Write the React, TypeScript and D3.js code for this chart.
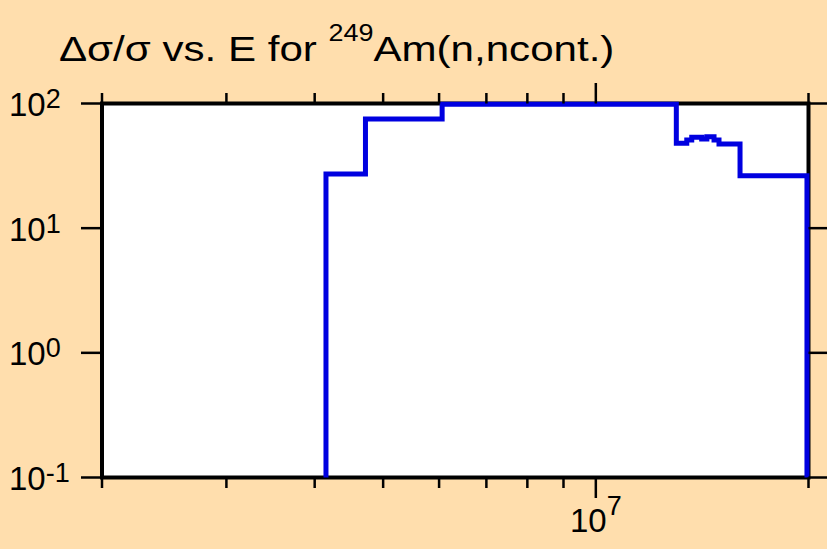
import React from "react";
import * as d3 from "d3";

const edges = [4.15e6, 4.72e6, 6.06e6, 1.3e7, 1.345e7, 1.367e7, 1.412e7, 1.436e7, 1.47e7, 1.494e7, 1.6e7, 1.99e7];
const values = [27.2, 75, 98.5, 48, 51, 53.6, 51.9, 54.2, 51, 47.4, 26.3];
const yTicks = [0.1, 1, 10, 100];
const yTickExp = ["-1", "0", "1", "2"];
const xMinorTicks = [2e6, 3e6, 4e6, 5e6, 6e6, 7e6, 8e6, 9e6, 2e7];
const xMajorTicks = [1e7];
const xMajorExp = ["7"];

const W = 827, H = 549;
const L = 102, R = 808.5, T = 103.5, B = 477.5;

export default function App() {
  const x = d3.scaleLog().domain([2e6, 2e7]).range([L, R]);
  const y = d3.scaleLog().domain([0.1, 100]).range([B, T]);
  const ymin = 0.1;
  const pts: [number, number][] = [[edges[0], ymin]];
  values.forEach((v, i) => pts.push([edges[i], v]));
  pts.push([edges[edges.length - 1], ymin]);
  const line = d3.line<[number, number]>()
    .x(d => x(d[0]))
    .y(d => y(d[1]))
    .curve(d3.curveStepAfter);
  const font = "'Liberation Sans', Arial, Helvetica, sans-serif";
  return (
    <svg width={W} height={H} style={{ position: "absolute", left: 0, top: 0 }} fontFamily={font}>
      <rect x={0} y={0} width={W} height={H} fill="#FFDEAD" />
      <rect x={L} y={T} width={R - L} height={B - T} fill="#ffffff" />
      <g transform="translate(59,61) scale(1.17,1)">
        <text fontSize={36} fill="#000">
          <tspan>Δσ/σ vs. E for </tspan>
          <tspan fontSize={23} dy={-20}>249</tspan>
          <tspan dy={20}>Am(n,ncont.)</tspan>
        </text>
      </g>
      <rect x={L} y={T} width={R - L} height={B - T} fill="none" stroke="#000" strokeWidth={4} />
      <path d={line(pts) || ""} fill="none" stroke="#0000e0" strokeWidth={5} strokeLinejoin="miter" />
      {yTicks.map((t, i) => (
        <g key={"y" + t}>
          <line x1={L - 21} x2={L} y1={y(t)} y2={y(t)} stroke="#000" strokeWidth={2.5} />
          <line x1={R} x2={R + 21} y1={y(t)} y2={y(t)} stroke="#000" strokeWidth={2.5} />
          <text x={9} y={y(t) + 12.5} fontSize={33} fill="#000">
            10<tspan fontSize={27} dy={-8}>{yTickExp[i]}</tspan>
          </text>
        </g>
      ))}
      {xMinorTicks.map(t => (
        <g key={"xm" + t}>
          <line x1={x(t)} x2={x(t)} y1={B} y2={B + 10.5} stroke="#000" strokeWidth={2.5} />
          <line x1={x(t)} x2={x(t)} y1={T} y2={T - 10.5} stroke="#000" strokeWidth={2.5} />
        </g>
      ))}
      {xMajorTicks.map((t, i) => (
        <g key={"xM" + t}>
          <line x1={x(t)} x2={x(t)} y1={B} y2={B + 20.5} stroke="#000" strokeWidth={2.5} />
          <line x1={x(t)} x2={x(t)} y1={T} y2={T - 20.5} stroke="#000" strokeWidth={2.5} />
          <text x={x(t)} y={532} fontSize={33} fill="#000" textAnchor="middle">
            10<tspan fontSize={27} dy={-17}>{xMajorExp[i]}</tspan>
          </text>
        </g>
      ))}
    </svg>
  );
}
